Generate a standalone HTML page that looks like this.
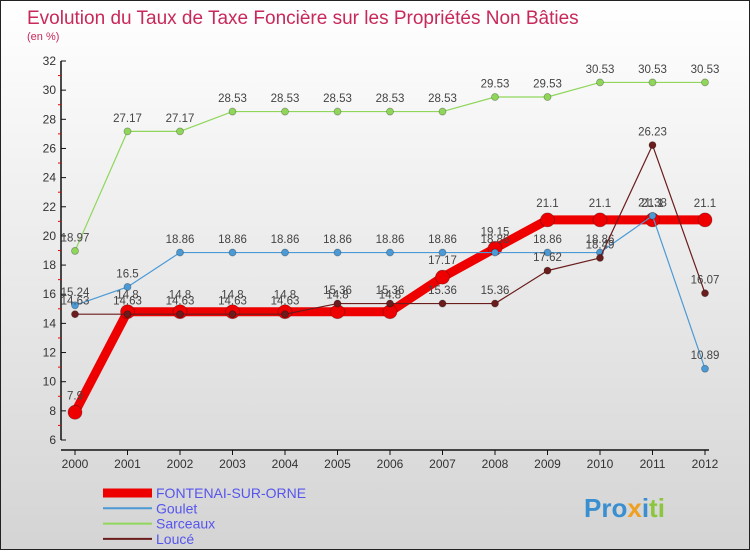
<!DOCTYPE html>
<html><head><meta charset="utf-8"><style>
body{margin:0;width:750px;height:550px;overflow:hidden;font-family:"Liberation Sans",sans-serif}
#wrap{position:relative;width:748px;height:548px;border:1px solid #222;background:linear-gradient(#fff,#d4d4d4)}
</style></head><body>
<div id="wrap">
<svg id="chart" width="748" height="548" xmlns="http://www.w3.org/2000/svg">
<text x="26" y="23" font-size="19" fill="#c8285a">Evolution du Taux de Taxe Foncière sur les Propriétés Non Bâties</text>
<text x="26" y="39" font-size="11" fill="#c8285a">(en %)</text>
<g id="axes"></g><g id="series"></g><g id="legend"></g>
<text x="583" y="516" font-size="26" font-weight="bold"><tspan fill="#3a8fd0">Pro</tspan><tspan fill="#f0a020">x</tspan><tspan fill="#3a8fd0">i</tspan><tspan fill="#8cc63f">ti</tspan></text>
</svg>
</div>
<script>
const years=[2000,2001,2002,2003,2004,2005,2006,2007,2008,2009,2010,2011,2012];
const yTicks=[6,8,10,12,14,16,18,20,22,24,26,28,30,32];
const fontenai=[7.9,14.8,14.8,14.8,14.8,14.8,14.8,17.17,19.15,21.1,21.1,21.1,21.1];
const goulet=[15.24,16.5,18.86,18.86,18.86,18.86,18.86,18.86,18.86,18.86,18.86,21.38,10.89];
const sarceaux=[18.97,27.17,27.17,28.53,28.53,28.53,28.53,28.53,29.53,29.53,30.53,30.53,30.53];
const louce=[14.63,14.63,14.63,14.63,14.63,15.36,15.36,15.36,15.36,17.62,18.49,26.23,16.07];
const NS="http://www.w3.org/2000/svg";
const X=i=>74+i*(630/12);
const Y=v=>439-(v-6)*(379/26);
function mk(t,a,p){const e=document.createElementNS(NS,t);for(const k in a)e.setAttribute(k,a[k]);p.appendChild(e);return e;}
const ax=document.getElementById('axes');
let l=mk('line',{x1:60,y1:Y(32),x2:60,y2:Y(6),stroke:'#111','stroke-width':1.5},ax);


l=mk('line',{x1:60,y1:449,x2:X(12)+4,y2:449,stroke:'#111','stroke-width':1.5},ax);


yTicks.forEach(v=>{
 mk('line',{x1:60,y1:Y(v),x2:65,y2:Y(v),stroke:'#111'},ax);
 if(v<32)mk('line',{x1:57,y1:Y(v+1),x2:60,y2:Y(v+1),stroke:'#e00'},ax);
 const t=mk('text',{x:55,y:Y(v)+4,'font-size':12,'text-anchor':'end',fill:'#333'},ax);t.textContent=v;
 
 
});
years.forEach((yr,i)=>{
 mk('line',{x1:X(i),y1:449,x2:X(i),y2:454,stroke:'#111'},ax);
 const t=mk('text',{x:X(i),y:467,'font-size':12,'text-anchor':'middle',fill:'#333'},ax);t.textContent=yr;
 
 
});
const sg=document.getElementById('series');
function draw(data,color,w,r,name){
 const g=mk('g',{},sg);
 
 
 const p=mk('polyline',{points:data.map((v,i)=>X(i)+','+Y(v)).join(' '),fill:'none',stroke:color,'stroke-width':w,'stroke-linejoin':'round'},g);
 
 
 data.forEach((v,i)=>{
  const c=mk('circle',{cx:X(i),cy:Y(v),r:r,fill:color,stroke:'rgba(0,0,0,0.3)','stroke-width':0.8},g);
  
  
  const t=mk('text',{x:X(i),y:Y(v)-(r+6),'font-size':11.5,'text-anchor':'middle',fill:'#444'},g);t.textContent=v;
  
  
 });
}
draw(sarceaux,'#8fd65a',1.2,3.5,'sarceaux');
draw(fontenai,'#ee0000',9,7,'fontenai');
draw(goulet,'#4b9ad6',1.2,3.5,'goulet');
draw(louce,'#6b1c1c',1.2,3.5,'louce');
const lg=document.getElementById('legend');
[['FONTENAI-SUR-ORNE','#ee0000',9,'#5555ee'],['Goulet','#4b9ad6',2,'#5555ee'],['Sarceaux','#8fd65a',2,'#5555ee'],['Loucé','#6b1c1c',2,'#5555ee']].forEach((d,i)=>{
 const y=492+i*15.3;
 const g=mk('g',{},lg);
 
 
 mk('line',{x1:102,y1:y,x2:151,y2:y,stroke:d[1],'stroke-width':d[2]},g);
 const t=mk('text',{x:155,y:y+5,'font-size':14,fill:d[3]},g);t.textContent=d[0];
});
</script>
</body></html>
